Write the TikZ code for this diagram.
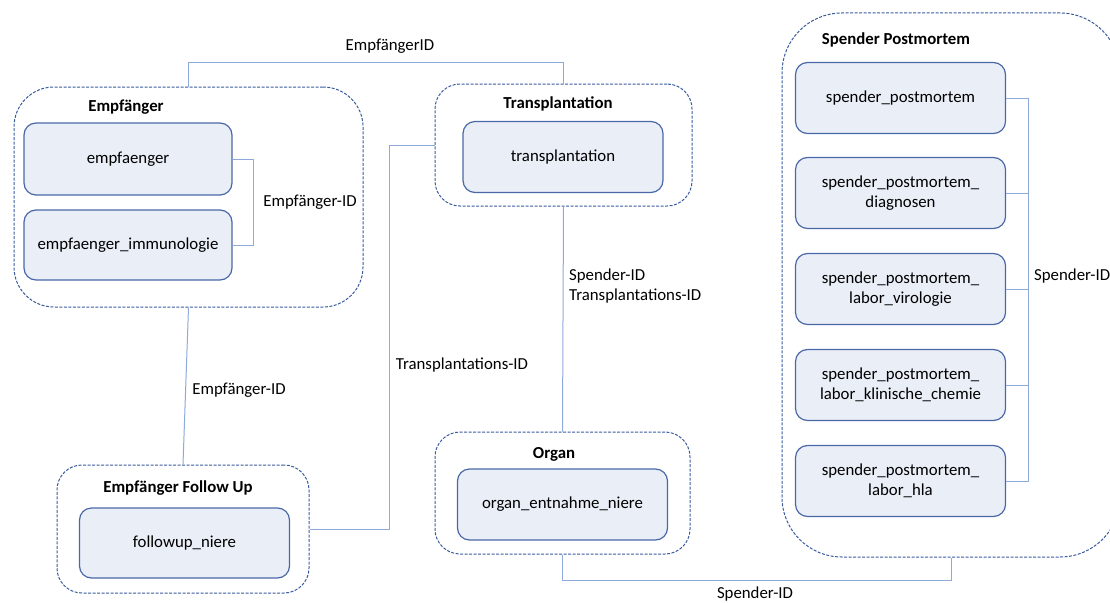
\documentclass[tikz,border=0pt]{standalone}
\usepackage{fontspec}
\setmainfont{Carlito}
\usetikzlibrary{positioning}

\definecolor{tblfill}{HTML}{E9EEF7}
\definecolor{tblline}{HTML}{4A68A6}
\definecolor{grpline}{HTML}{3A5C9C}
\definecolor{linkline}{HTML}{8EA9DB}

\begin{document}
\begin{tikzpicture}[x=1pt,y=-1pt,
	tbl/.style={draw=tblline, fill=tblfill, line width=1.2pt, rounded corners=12pt, minimum width=210pt, minimum height=71pt, align=center, inner sep=0pt, font=\fontsize{16.8}{20}\selectfont},
	grp/.style={draw=grpline, line width=1pt, dash pattern=on 3pt off 1.5pt, inner sep=0pt},
	link/.style={draw=linkline, line width=1pt},
	lbl/.style={font=\fontsize{16.8}{20}\selectfont, inner sep=0pt},
	ttl/.style={font=\bfseries\fontsize{16.8}{20}\selectfont, inner sep=0pt}]
	\clip (0,0) rectangle (1110,602);
	\useasboundingbox (0,0) rectangle (1110,602);

	% groups
	\node[grp, rounded corners=40pt, minimum width=349pt, minimum height=220pt] (emp) at (188.5,197) {};
	\node[grp, rounded corners=25pt, minimum width=257pt, minimum height=122pt] (trans) at (563.5,145) {};
	\node[grp, rounded corners=25pt, minimum width=252pt, minimum height=128pt] (fu) at (183,529) {};
	\node[grp, rounded corners=25pt, minimum width=255pt, minimum height=122pt] (organ) at (562.5,493) {};
	\node[grp, rounded corners=60pt, minimum width=338pt, minimum height=544pt] (spender) at (951,285) {};

	\node[ttl] (empttl) at (126,107) {Empfänger};
	\node[ttl] (transttl) at (558,104) {Transplantation};
	\node[ttl] (futtl) at (178,488) {Empfänger Follow Up};
	\node[ttl] (organttl) at (554,454) {Organ};
	\node[ttl] (spenderttl) at (896,40) {Spender Postmortem};

	% tables
	\node[tbl, minimum width=208pt, minimum height=72pt] (e1) at (128,159) {empfaenger};
	\node[tbl, minimum width=208pt, minimum height=70pt] (e2) at (128,245) {empfaenger\_immunologie};
	\node[tbl, minimum width=200pt] (t1) at (563,157) {transplantation};
	\node[tbl, minimum height=70pt] (f1) at (184.5,543) {followup\_niere};
	\node[tbl] (o1) at (562.5,504.5) {organ\_entnahme\_niere};
	\node[tbl] (s1) at (900.5,98) {spender\_postmortem};
	\node[tbl] (s2) at (900.5,193) {spender\_postmortem\_\\diagnosen};
	\node[tbl] (s3) at (900.5,289) {spender\_postmortem\_\\labor\_virologie};
	\node[tbl] (s4) at (900.5,385) {spender\_postmortem\_\\labor\_klinische\_chemie};
	\node[tbl] (s5) at (900.5,481) {spender\_postmortem\_\\labor\_hla};

	% links
	\draw[link] (e1.east) -- ++(21,0) |- (e2.east);
	\node[lbl] (l1) at (310,202) {Empfänger-ID};

	\draw[link] (emp.north) -- ++(0,-24) -| (trans.north);
	\node[lbl] (l2) at (390,46) {EmpfängerID};

	\draw[link] (emp.south) -- (fu.north);
	\node[lbl] (l3) at (239,390) {Empfänger-ID};

	\draw[link] (trans.west) -- ++(-45,0) |- (fu.east);
	\node[lbl] (l4) at (462,365) {Transplantations-ID};

	\draw[link] (trans.south) -- (organ.north);
	\node[lbl, align=left, anchor=west] (l5) at (569,286) {Spender-ID\\Transplantations-ID};

	\draw[link] (organ.south) -- ++(0,26) -| (spender.south);
	\node[lbl] (l6) at (755,594) {Spender-ID};

	\coordinate (spine) at (1028,0);
	\draw[link] (s1.east) -- (s1.east -| spine) -- (s5.east -| spine) -- (s5.east);
	\foreach \i in {2,3,4}
		\draw[link] (s\i.east) -- (s\i.east -| spine);
	\node[lbl, anchor=west] (l7) at (1034,276) {Spender-ID};
\end{tikzpicture}
\end{document}
